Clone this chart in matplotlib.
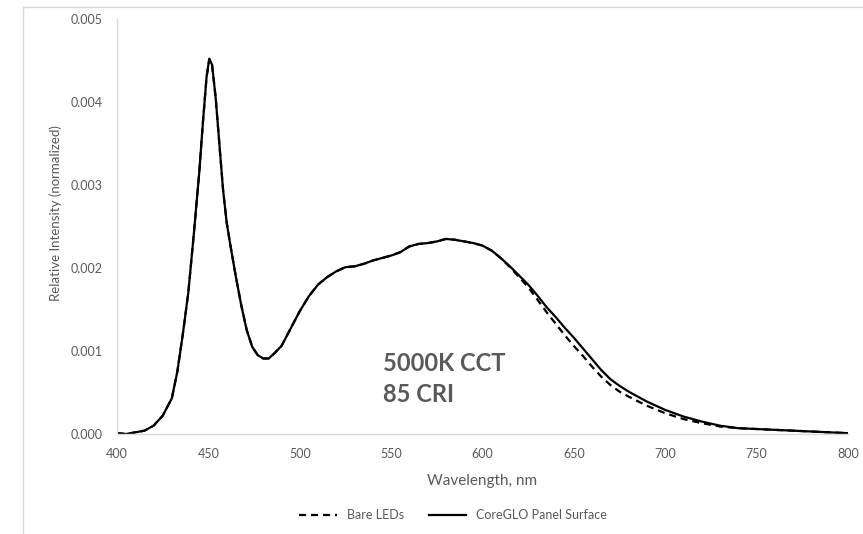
import matplotlib
matplotlib.use("Agg")
import matplotlib.pyplot as plt
from matplotlib.lines import Line2D

# wavelengths (nm) and relative intensity
wl = [400, 405, 410, 415, 420, 425, 430, 433, 436, 439, 442, 445, 447, 449, 450.5,
      452, 454, 456, 458, 460, 462, 465, 468, 471, 474, 477, 480, 483, 486, 490,
      495, 500, 505, 510, 515, 520, 525, 530, 535, 540, 545, 550, 555, 560, 565,
      570, 575, 580, 585, 590, 595, 600, 605, 610, 615, 620, 625, 630, 635, 640,
      645, 650, 655, 660, 665, 670, 675, 680, 690, 700, 710, 720, 730, 740, 750,
      760, 770, 780, 790, 800]

panel = [0.00001, 0.00000, 0.00002, 0.00004, 0.00010, 0.00022, 0.00043, 0.00075,
         0.00120, 0.00170, 0.00240, 0.00315, 0.00375, 0.00430, 0.00452, 0.00445,
         0.00405, 0.00350, 0.00295, 0.00255, 0.00228, 0.00190, 0.00155, 0.00125,
         0.00105, 0.00095, 0.00091, 0.00091, 0.00097, 0.00106, 0.00127, 0.00148,
         0.00166, 0.00180, 0.00189, 0.00196, 0.00201, 0.00202, 0.00205, 0.00209,
         0.00212, 0.00215, 0.00219, 0.00226, 0.00229, 0.00230, 0.00232, 0.00235,
         0.00234, 0.00232, 0.00230, 0.00227, 0.00221, 0.00212, 0.00202, 0.00191,
         0.00180, 0.00167, 0.00153, 0.00141, 0.00128, 0.00116, 0.00103, 0.00090,
         0.00077, 0.00066, 0.00058, 0.00051, 0.00039, 0.00029, 0.00021, 0.00015,
         0.00010, 0.00007, 0.00006, 0.00005, 0.00004, 0.00003, 0.00002, 0.00001]

bare = [0.00001, 0.00000, 0.00002, 0.00004, 0.00010, 0.00022, 0.00043, 0.00075,
        0.00120, 0.00170, 0.00240, 0.00315, 0.00375, 0.00430, 0.00452, 0.00445,
        0.00405, 0.00350, 0.00295, 0.00255, 0.00228, 0.00190, 0.00155, 0.00125,
        0.00105, 0.00095, 0.00091, 0.00091, 0.00097, 0.00106, 0.00127, 0.00148,
        0.00166, 0.00180, 0.00189, 0.00196, 0.00201, 0.00202, 0.00205, 0.00209,
        0.00212, 0.00215, 0.00219, 0.00226, 0.00229, 0.00230, 0.00232, 0.00235,
        0.00234, 0.00232, 0.00230, 0.00227, 0.00221, 0.00212, 0.00201, 0.00189,
        0.00177, 0.00162, 0.00147, 0.00133, 0.00119, 0.00106, 0.00094, 0.00081,
        0.00069, 0.00059, 0.00051, 0.00045, 0.00034, 0.00025, 0.00018, 0.00013,
        0.00009, 0.00007, 0.00006, 0.00005, 0.00004, 0.00003, 0.00002, 0.00001]

xticks = [400, 450, 500, 550, 600, 650, 700, 750, 800]
yticks = [0.000, 0.001, 0.002, 0.003, 0.004, 0.005]

grey = '#595959'
light = '#D9D9D9'
plt.rcParams['font.family'] = ['Lato', 'DejaVu Sans']

fig = plt.figure(figsize=(8.63, 5.34), dpi=100)
ax = fig.add_axes([117/863, 100/534, 731/863, 415/534])

ax.plot(wl, bare, color='black', lw=1.6, dashes=(3.2, 2.2), label='Bare LEDs')
ax.plot(wl, panel, color='black', lw=1.6, label='CoreGLO Panel Surface')

ax.set_xlim(400, 800)
ax.set_ylim(0, 0.005)
ax.set_xticks(xticks)
ax.set_yticks(yticks)
ax.set_yticklabels(['%.3f' % v for v in yticks])
ax.tick_params(length=0, labelsize=9, colors=grey)
ax.tick_params(axis='x', pad=10)
ax.tick_params(axis='y', pad=10)
for s in ['top', 'right']:
    ax.spines[s].set_visible(False)
for s in ['left', 'bottom']:
    ax.spines[s].set_color(light)
    ax.spines[s].set_linewidth(1)

ax.set_xlabel('Wavelength, nm', fontsize=11, color=grey, labelpad=10)
ax.set_ylabel('Relative Intensity (normalized)', fontsize=9.5, color=grey)
ax.yaxis.set_label_coords(-0.075, 0.532)

ax.text(545.5, 0.000855, '5000K CCT', fontsize=17, fontweight='bold', color=grey,
        va='center', ha='left')
ax.text(545.5, 0.00047, '85 CRI', fontsize=17, fontweight='bold', color=grey,
        va='center', ha='left')

fig.legend(loc='center', bbox_to_anchor=(453/863, 1 - 515/534), ncol=2,
           frameon=False, fontsize=9, handlelength=3, handletextpad=0.8,
           columnspacing=2.0, labelcolor=grey)

# chart border (light grey frame of the chart area)
fig.add_artist(Line2D([23/863, 23/863], [0, 1 - 7/534], transform=fig.transFigure,
                      color=light, lw=1))
fig.add_artist(Line2D([23/863, 1], [1 - 7/534, 1 - 7/534], transform=fig.transFigure,
                      color=light, lw=1))

fig.savefig('out.png', dpi=100)
